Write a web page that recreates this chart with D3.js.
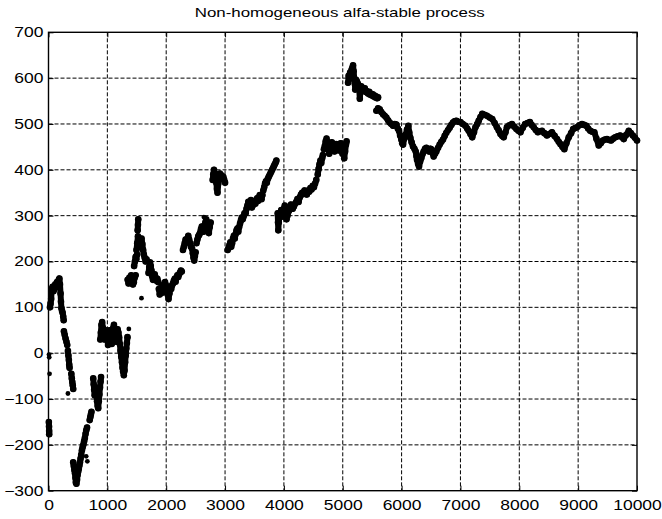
<!DOCTYPE html>
<html>
<head>
<meta charset="utf-8">
<script src="https://cdn.jsdelivr.net/npm/d3@7"></script>
<style>
  body { margin: 0; background: #fff; }
  text { font-family: "Liberation Sans", Arial, sans-serif; fill: #000; }
</style>
</head>
<body>
<svg id="chart" width="662" height="519"></svg>
<script>
// values (x = step, y = process value)
const xTicks = [0, 1000, 2000, 3000, 4000, 5000, 6000, 7000, 8000, 9000, 10000]
const yTicks = [-300, -200, -100, 0, 100, 200, 300, 400, 500, 600, 700]

const seg01 = [[6,-150],[9,-160],[11,-170],[12,-177]]
const seg02 = [[25,100],[35,108],[45,118],[55,140],[70,145],[85,135],[100,140],[115,150],[130,145],[145,155],[160,150],[175,160],[185,163],[195,150],[205,130],[212,112],[220,98],[230,92],[240,88],[250,80],[258,72]]
const seg03 = [[262,48],[275,40],[290,32],[305,25],[318,18]]
const seg04 = [[330,5],[338,-5],[346,-15],[352,-25],[358,-32]]
const seg05 = [[388,-45],[396,-55],[404,-63],[412,-70],[420,-78]]
const seg06 = [[420,-238],[430,-246],[440,-255],[450,-262],[458,-272],[465,-282],[475,-285],[485,-276],[495,-265],[505,-258],[515,-252],[525,-245],[535,-238],[545,-230],[555,-222],[568,-212],[580,-205],[592,-200],[605,-192],[618,-185],[630,-176],[642,-168],[655,-162]]
const seg07 = [[700,-146],[710,-140],[720,-134],[730,-128]]
const seg08 = [[760,-55],[768,-68],[776,-80],[784,-92],[795,-85],[805,-75],[815,-90],[825,-105],[835,-115],[845,-120],[855,-105],[865,-90],[875,-75],[885,-62],[893,-52]]
const seg09 = [[880,30],[890,45],[900,62],[912,68],[925,55],[938,45],[950,30],[962,38],[975,50],[988,42],[1000,30],[1012,18],[1025,35],[1038,50],[1050,42],[1062,30],[1075,20],[1088,40],[1100,55],[1112,62],[1125,50],[1138,38],[1150,25],[1162,40],[1175,52],[1188,45],[1200,35],[1212,20],[1224,5],[1236,-8],[1248,-20],[1258,-32],[1268,-40],[1280,-48],[1292,-38],[1302,-20],[1312,-5],[1322,10],[1332,22],[1342,35]]
const seg10 = [[1345,160],[1360,152],[1375,165],[1390,158],[1405,170],[1420,162],[1435,150],[1450,155],[1465,165],[1480,170]]
const seg11 = [[1455,190],[1468,200],[1480,210],[1492,205],[1505,215]]
const seg12 = [[1515,268],[1520,280],[1525,292]]
const seg13 = [[1495,225],[1508,240],[1520,255],[1532,248],[1545,240],[1558,232],[1570,245],[1582,250],[1595,238],[1608,225],[1620,215],[1635,208],[1650,200],[1665,205]]
const seg14 = [[1700,175],[1712,188],[1725,198],[1738,190],[1750,180],[1762,168],[1775,160],[1790,165],[1805,172],[1820,165],[1835,158],[1850,162],[1865,155]]
const seg15 = [[1875,140],[1890,128],[1905,135],[1920,145],[1935,132],[1950,140],[1965,150],[1980,155],[1995,148],[2010,138],[2025,128],[2040,118],[2055,130],[2070,142],[2085,140],[2100,148]]
const seg16 = [[2115,152],[2130,158],[2145,162],[2160,156],[2175,165],[2190,170],[2205,166],[2220,172],[2235,176],[2250,180],[2265,178]]
const seg17 = [[2285,225],[2300,232],[2315,240],[2330,248],[2345,242],[2360,250],[2375,256],[2390,248],[2405,240],[2420,232]]
const seg18 = [[2440,228],[2452,218],[2464,208],[2476,202],[2488,212],[2500,220]]
const seg19 = [[2515,240],[2530,248],[2545,255],[2560,258],[2575,262],[2590,270],[2605,276],[2620,270],[2635,265],[2650,278],[2665,285],[2680,292],[2695,280],[2710,270],[2725,262],[2740,275],[2755,285]]
const seg20 = [[2790,378],[2800,390],[2812,400],[2825,392],[2840,385],[2852,372],[2862,358],[2872,350],[2885,370],[2898,385],[2912,392],[2925,382],[2940,388],[2955,380],[2970,385],[2985,378],[3000,372]]
const seg21 = [[3045,225],[3060,230],[3075,236],[3090,242],[3105,232],[3120,240],[3135,250],[3150,256],[3165,250],[3180,260],[3195,268],[3210,272],[3225,265],[3240,275],[3255,283],[3270,290],[3285,296],[3300,292],[3315,298],[3330,305]]
const seg22 = [[3350,305],[3365,315],[3380,322],[3395,330],[3410,326],[3425,320],[3440,334],[3455,318],[3470,322],[3485,328],[3500,332],[3515,326],[3530,334],[3545,338],[3560,332],[3575,340],[3590,345],[3605,340],[3620,336],[3635,345]]
const seg23 = [[3650,355],[3665,362],[3680,370],[3695,375],[3710,372],[3725,380],[3740,384],[3755,388],[3770,392],[3785,396],[3800,400],[3815,404],[3830,408],[3845,412],[3860,416],[3872,420]]
const seg24 = [[3895,305],[3900,285],[3905,268],[3912,285],[3925,298],[3940,306],[3955,312],[3970,298],[3985,305],[4000,315],[4015,322],[4030,305],[4045,292],[4060,300],[4075,308],[4090,312],[4105,318],[4120,324],[4135,318]]
const seg25 = [[4150,315],[4170,320],[4190,326],[4210,330],[4230,336],[4250,330],[4270,340],[4290,346],[4310,350],[4330,347],[4350,355],[4370,350],[4390,346],[4410,355],[4430,352],[4450,360],[4470,357],[4490,365],[4510,362],[4530,370],[4550,378]]
const seg26 = [[4575,390],[4590,402],[4605,412],[4620,420],[4635,415],[4650,425],[4662,432]]
const seg27 = [[4680,445],[4695,452],[4710,462],[4725,468],[4740,460],[4755,448],[4770,435],[4785,442],[4800,452],[4815,460],[4830,456],[4845,448],[4860,440],[4875,450],[4890,456],[4905,446],[4920,454],[4935,442],[4950,450],[4965,458],[4980,446],[4995,435],[5010,452],[5025,425],[5040,440],[5055,455],[5065,462]]
const seg28 = [[5090,590],[5100,605],[5112,598],[5125,612],[5138,608],[5150,618],[5162,622],[5175,628],[5185,615],[5195,600],[5205,588],[5212,575],[5220,588],[5230,596],[5242,592],[5255,588],[5268,585],[5280,575],[5290,555],[5300,572],[5315,582],[5330,578],[5345,576],[5360,574],[5375,578],[5390,570],[5405,572],[5420,568],[5435,566],[5450,570],[5465,564],[5480,566],[5495,562],[5510,565],[5525,560],[5540,562],[5555,558],[5570,560],[5585,556],[5600,558]]
const seg29 = [[5572,529],[5600,534],[5628,532],[5655,526],[5685,521],[5712,518],[5741,514],[5770,508],[5798,503],[5825,500],[5855,496],[5882,500],[5911,499],[5935,490],[5956,485],[5975,475],[5996,466],[6010,458],[6025,455],[6045,468],[6070,477],[6092,488],[6115,496],[6130,482],[6149,470],[6170,460],[6194,451],[6218,446],[6240,440],[6252,430],[6262,422],[6280,413],[6296,407],[6315,418],[6336,426],[6355,434],[6375,440],[6398,446],[6420,448],[6443,444],[6466,440],[6490,446],[6511,444],[6528,436],[6545,429],[6568,435],[6590,440],[6620,448],[6647,455],[6675,461],[6704,466],[6732,474],[6760,481],[6790,487],[6817,492],[6845,498],[6873,503],[6900,506],[6930,507],[6960,505],[7000,504],[7040,500],[7085,496],[7115,490],[7140,485],[7170,478],[7200,471],[7230,482],[7255,493],[7285,500],[7310,507],[7340,515],[7370,522],[7410,520],[7450,518],[7495,514],[7540,511],[7580,502],[7620,493],[7650,486],[7680,478],[7710,474],[7735,471],[7765,482],[7790,493],[7830,497],[7875,500],[7915,494],[7950,489],[7985,485],[8020,482],[8060,492],[8100,500],[8140,502],[8180,504],[8210,498],[8245,493],[8280,487],[8315,482],[8350,484],[8385,485],[8425,480],[8470,475],[8510,478],[8555,482],[8600,474],[8640,467],[8670,461],[8700,456],[8735,450],[8765,445],[8800,458],[8840,471],[8880,480],[8915,489],[8950,491],[8980,493],[9020,497],[9065,500],[9100,498],[9140,496],[9170,490],[9205,485],[9240,483],[9275,482],[9310,468],[9350,453],[9385,458],[9420,464],[9455,466],[9490,467],[9525,465],[9560,464],[9595,468],[9630,471],[9670,473],[9715,475],[9745,471],[9775,467],[9815,476],[9860,485],[9895,480],[9930,475],[9965,470],[10000,464]]

// isolated points
const strays = [[8,-3],[12,-9],[18,-45],[330,-88],[640,-225],[660,-236],[1365,53],[1580,120],[2640,297]]

const runs = [seg01, seg02, seg03, seg04, seg05, seg06, seg07, seg08, seg09, seg10,
	seg11, seg12, seg13, seg14, seg15, seg16, seg17, seg18, seg19, seg20,
	seg21, seg22, seg23, seg24, seg25, seg26, seg27, seg28, seg29]

const svg = d3.select("#chart")
const plot = {left: 48.5, right: 637, top: 32.3, bottom: 490.7}
const stretch = 1.25 // glyphs in the picture are wider than they are tall

const x = d3.scaleLinear().domain([0, 10000]).range([plot.left, plot.right])
const y = d3.scaleLinear().domain([-300, 700]).range([plot.bottom, plot.top])

// dashed grid
svg.append("g")
	.selectAll("line")
	.data(xTicks.slice(1, -1))
	.join("line")
	.attr("x1", d => x(d)).attr("x2", d => x(d))
	.attr("y1", plot.top).attr("y2", plot.bottom)
	.attr("stroke", "#000").attr("stroke-width", 1)
	.attr("stroke-dasharray", "4,2")
svg.append("g")
	.selectAll("line")
	.data(yTicks.slice(1, -1))
	.join("line")
	.attr("y1", d => y(d)).attr("y2", d => y(d))
	.attr("x1", plot.left).attr("x2", plot.right)
	.attr("stroke", "#000").attr("stroke-width", 1)
	.attr("stroke-dasharray", "4,2")

// the process
const line = d3.line()
	.x(d => x(d[0]))
	.y(d => y(d[1]))

const marks = svg.append("g")
marks.selectAll("path")
	.data(runs)
	.join("path")
	.attr("d", line)
	.attr("fill", "none")
	.attr("stroke", "#000")
	.attr("stroke-width", 6)
	.attr("stroke-linejoin", "round")
	.attr("stroke-linecap", "round")
marks.selectAll("circle.pt")
	.data(runs.flat())
	.join("circle")
	.attr("class", "pt")
	.attr("cx", d => x(d[0]))
	.attr("cy", d => y(d[1]))
	.attr("r", 3.3)
	.attr("fill", "#000")
marks.selectAll("circle.stray")
	.data(strays)
	.join("circle")
	.attr("class", "stray")
	.attr("cx", d => x(d[0]))
	.attr("cy", d => y(d[1]))
	.attr("r", 2.4)
	.attr("fill", "#000")

// axes, ticks pointing inward on all four sides
function styleAxis(g) {
	g.select(".domain").remove()
	g.selectAll(".tick line").attr("stroke", "#000")
	g.selectAll(".tick text")
		.attr("font-size", 14)
		.attr("font-family", "Liberation Sans, Arial, sans-serif")
		.attr("fill", "#000")
}

const fmt = d3.format("d")

svg.append("g")
	.attr("transform", "translate(0," + plot.bottom + ")")
	.call(d3.axisBottom(x).tickValues(xTicks).tickFormat(fmt).tickSize(-5).tickPadding(9))
	.call(styleAxis)
	.selectAll(".tick text")
	.attr("transform", "scale(" + stretch + ",1)")

svg.append("g")
	.attr("transform", "translate(" + plot.left + ",0)")
	.call(d3.axisLeft(y).tickValues(yTicks).tickFormat(fmt).tickSize(-5).tickPadding(4))
	.call(styleAxis)
	.selectAll(".tick text")
	.attr("transform", "scale(" + stretch + ",1)")

svg.append("g")
	.attr("transform", "translate(0," + plot.top + ")")
	.call(d3.axisTop(x).tickValues(xTicks).tickSize(-5).tickFormat(""))
	.call(styleAxis)

svg.append("g")
	.attr("transform", "translate(" + plot.right + ",0)")
	.call(d3.axisRight(y).tickValues(yTicks).tickSize(-5).tickFormat(""))
	.call(styleAxis)

svg.append("rect")
	.attr("x", plot.left)
	.attr("y", plot.top)
	.attr("width", plot.right - plot.left)
	.attr("height", plot.bottom - plot.top)
	.attr("fill", "none")
	.attr("stroke", "#000")
	.attr("stroke-width", 1.4)

svg.append("text")
	.attr("transform", "translate(" + ((plot.left + plot.right) / 2 - 3) + ",16.7) scale(1.3,1)")
	.attr("text-anchor", "middle")
	.attr("font-size", 13)
	.text("Non-homogeneous alfa-stable process")
</script>
</body>
</html>
